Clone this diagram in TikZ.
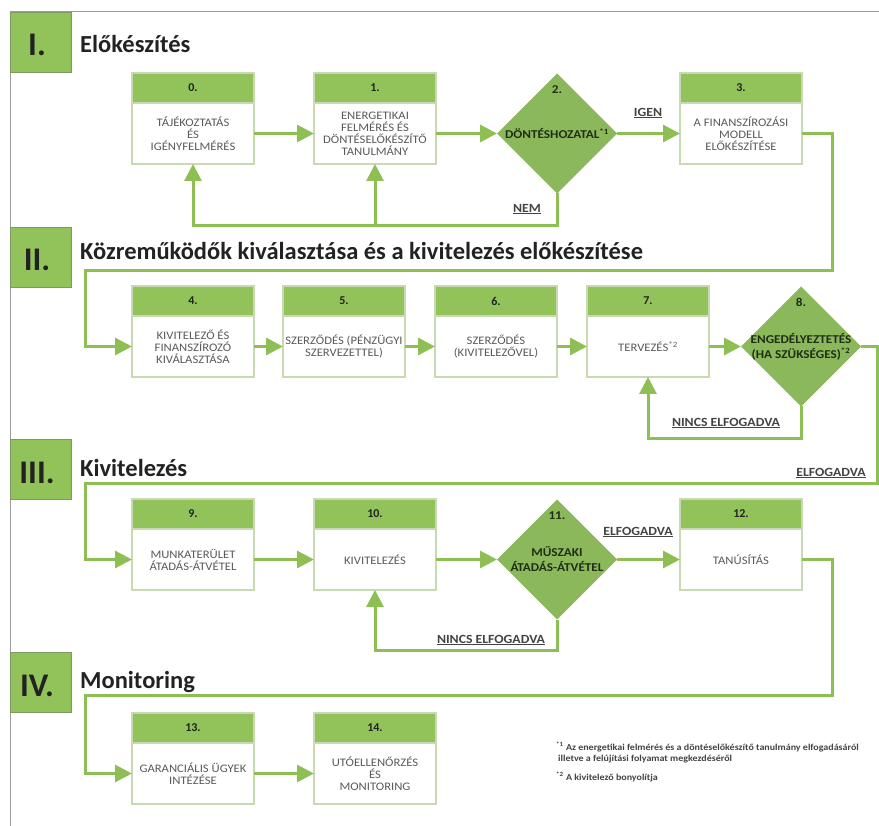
\documentclass[tikz,border=0pt]{standalone}
\usepackage{fontspec}
\setmainfont{Carlito}
\newfontfamily\wideface[FakeStretch=1.1]{Carlito}
\usetikzlibrary{arrows.meta,shapes.geometric,calc}

\definecolor{leaf}{HTML}{92C25A}
\definecolor{leafdark}{HTML}{8CB85C}
\definecolor{flowline}{HTML}{8DBF55}
\definecolor{boxedge}{HTML}{C9D9B4}
\definecolor{frameedge}{HTML}{9C9C9C}
\definecolor{squareedge}{HTML}{7F9966}
\definecolor{inkdark}{HTML}{222222}
\definecolor{inkmid}{HTML}{5A5A5A}
\definecolor{inkgreen}{HTML}{1F2E14}

\tikzset{
  phasebox/.style={draw=squareedge, line width=0.8pt, fill=leaf, minimum width=61pt,
    minimum height=60pt, inner sep=0pt, outer sep=0pt, anchor=north west},
  phasenum/.style={font=\fontsize{33}{33}\bfseries, text=inkdark, anchor=base, inner sep=0pt},
  phasetitle/.style={font=\fontsize{24.5}{26}\bfseries, text=inkdark, anchor=base west, inner sep=0pt},
  stephead/.style={draw=boxedge, line width=1.2pt, fill=leaf, minimum width=122pt,
    minimum height=30pt, inner sep=0pt, outer sep=0pt, font=\fontsize{12}{12}\bfseries, text=inkdark},
  stepbody/.style={draw=boxedge, line width=1.2pt, fill=white, minimum width=122pt,
    minimum height=61pt, inner sep=0pt, outer sep=0pt, align=center,
    font=\wideface\fontsize{11.5}{12}\selectfont, text=inkmid},
  decision/.style={diamond, aspect=1, fill=leafdark, minimum width=120pt,
    minimum height=120pt, inner sep=0pt, outer sep=0pt},
  dectext/.style={font=\wideface\fontsize{12}{15}\bfseries, text=inkgreen, align=center, inner sep=0pt},
  flow/.style={draw=flowline, line width=3pt, -{Triangle[length=17pt,width=17pt]}},
  answer/.style={font=\wideface\fontsize{12.5}{13}\bfseries, text=inkdark!85, inner sep=0pt},
  note/.style={font=\wideface\fontsize{9.1}{11}\bfseries, text=inkdark!85, anchor=base west, inner sep=0pt},
}

% a step: green numbered header over a white body; the body carries the name
\newcommand\stepnode[5]{%
  \node[stephead, anchor=north west] (#1h) at (#2,#3) {#4};
  \node[stepbody, anchor=north] (#1) at (#1h.south) {#5};
}

\begin{document}
\begin{tikzpicture}[x=1pt,y=-1pt]
\useasboundingbox (0,0) rectangle (879,826);

% page frame
\draw[frameedge, line width=1pt] (10,826) -- (10,12) -- (879,12);

% phase markers and titles
\node[phasebox] (p1) at (10,12) {};
\node[phasenum] at (37,56) {I.};
\node[phasetitle] (t1) at (80,53) {Előkészítés};

\node[phasebox] (p2) at (10,227) {};
\node[phasenum] at (37,271) {II.};
\node[phasetitle] (t2) at (80,260) {Közreműködők kiválasztása és a kivitelezés előkészítése};

\node[phasebox] (p3) at (10,439) {};
\node[phasenum] at (37,483) {III.};
\node[phasetitle] (t3) at (80,477) {Kivitelezés};

\node[phasebox] (p4) at (10,652) {};
\node[phasenum] at (37,696) {IV.};
\node[phasetitle] (t4) at (80,688) {Monitoring};

% row I
\stepnode{s0}{132}{73}{0.}{TÁJÉKOZTATÁS\\ÉS\\IGÉNYFELMÉRÉS}
\stepnode{s1}{314}{73}{1.}{ENERGETIKAI\\FELMÉRÉS ÉS\\DÖNTÉSELŐKÉSZÍTŐ\\TANULMÁNY}
\node[decision] (d2) at (557,133.5) {};
\node[dectext] at (d2) {DÖNTÉSHOZATAL\textsuperscript{*1}};
\node[dectext] at ($(d2.north)+(0,16)$) {2.};
\stepnode{s3}{680}{73}{3.}{A FINANSZÍROZÁSI\\MODELL\\ELŐKÉSZÍTÉSE}

% row II
\stepnode{s4}{132}{286}{4.}{KIVITELEZŐ ÉS\\FINANSZÍROZÓ\\KIVÁLASZTÁSA}
\stepnode{s5}{283}{286}{5.}{SZERZŐDÉS (PÉNZÜGYI\\SZERVEZETTEL)}
\stepnode{s6}{435}{286}{6.}{SZERZŐDÉS\\(KIVITELEZŐVEL)}
\stepnode{s7}{587}{286}{7.}{TERVEZÉS\textsuperscript{*2}}
\node[decision] (d8) at (801,346.5) {};
\node[dectext] at (d8) {ENGEDÉLYEZTETÉS\\(HA SZÜKSÉGES)\textsuperscript{*2}};
\node[dectext] at ($(d8.north)+(0,16)$) {8.};

% row III
\stepnode{s9}{132}{499}{9.}{MUNKATERÜLET\\ÁTADÁS-ÁTVÉTEL}
\stepnode{s10}{314}{499}{10.}{KIVITELEZÉS}
\node[decision] (d11) at (557,559.5) {};
\node[dectext] at (d11) {MŰSZAKI\\ÁTADÁS-ÁTVÉTEL};
\node[dectext] at ($(d11.north)+(0,16)$) {11.};
\stepnode{s12}{680}{499}{12.}{TANÚSÍTÁS}

% row IV
\stepnode{s13}{132}{713}{13.}{GARANCIÁLIS ÜGYEK\\INTÉZÉSE}
\stepnode{s14}{314}{713}{14.}{UTÓELLENŐRZÉS\\ÉS\\MONITORING}

% flow, row I
\draw[flow] (s0.east) -- (s1.west);
\draw[flow] (s1.east) -- (d2.west);
\draw[flow] (d2.east) -- (s3.west);
\coordinate (loop1) at (0,226);
\draw[flow] (d2.south) |- (s0.south |- loop1) -- (s0.south);
\draw[flow] (s1.south |- loop1) -- (s1.south);
\coordinate (ret1r) at (832,271);
\coordinate (ret1l) at (85,271);
\draw[flow] (s3.east) -| (ret1r) -- (ret1l) |- (s4.west);

% flow, row II
\draw[flow] (s4.east) -- (s5.west);
\draw[flow] (s5.east) -- (s6.west);
\draw[flow] (s6.east) -- (s7.west);
\draw[flow] (s7.east) -- (d8.west);
\coordinate (loop2) at (0,439);
\draw[flow] (d8.south) |- (s7.south |- loop2) -- (s7.south);
\coordinate (ret2r) at (877,483);
\coordinate (ret2l) at (85,483);
\draw[flow] (d8.east) -| (ret2r) -- (ret2l) |- (s9.west);

% flow, row III
\draw[flow] (s9.east) -- (s10.west);
\draw[flow] (s10.east) -- (d11.west);
\draw[flow] (d11.east) -- (s12.west);
\coordinate (loop3) at (0,650);
\draw[flow] (d11.south) |- (s10.south |- loop3) -- (s10.south);
\coordinate (ret3r) at (832,695);
\coordinate (ret3l) at (85,695);
\draw[flow] (s12.east) -| (ret3r) -- (ret3l) |- (s13.west);

% flow, row IV
\draw[flow] (s13.east) -- (s14.west);

% branch labels
\node[answer] (a1) at (648,113) {\underline{IGEN}};
\node[answer] (a2) at (527,209) {\underline{NEM}};
\node[answer] (a3) at (726,423) {\underline{NINCS ELFOGADVA}};
\node[answer] (a4) at (831,473) {\underline{ELFOGADVA}};
\node[answer] (a5) at (638,532) {\underline{ELFOGADVA}};
\node[answer] (a6) at (491,640) {\underline{NINCS ELFOGADVA}};

% footnotes
\node[note] (fn1) at (556,750) {\textsuperscript{*1} Az energetikai felmérés és a döntéselőkészítő tanulmány elfogadásáról};
\node[note] (fn1b) at (558,761) {illetve a felújítási folyamat megkezdéséről};
\node[note] (fn2) at (556,780) {\textsuperscript{*2} A kivitelező bonyolítja};
\end{tikzpicture}
\end{document}
